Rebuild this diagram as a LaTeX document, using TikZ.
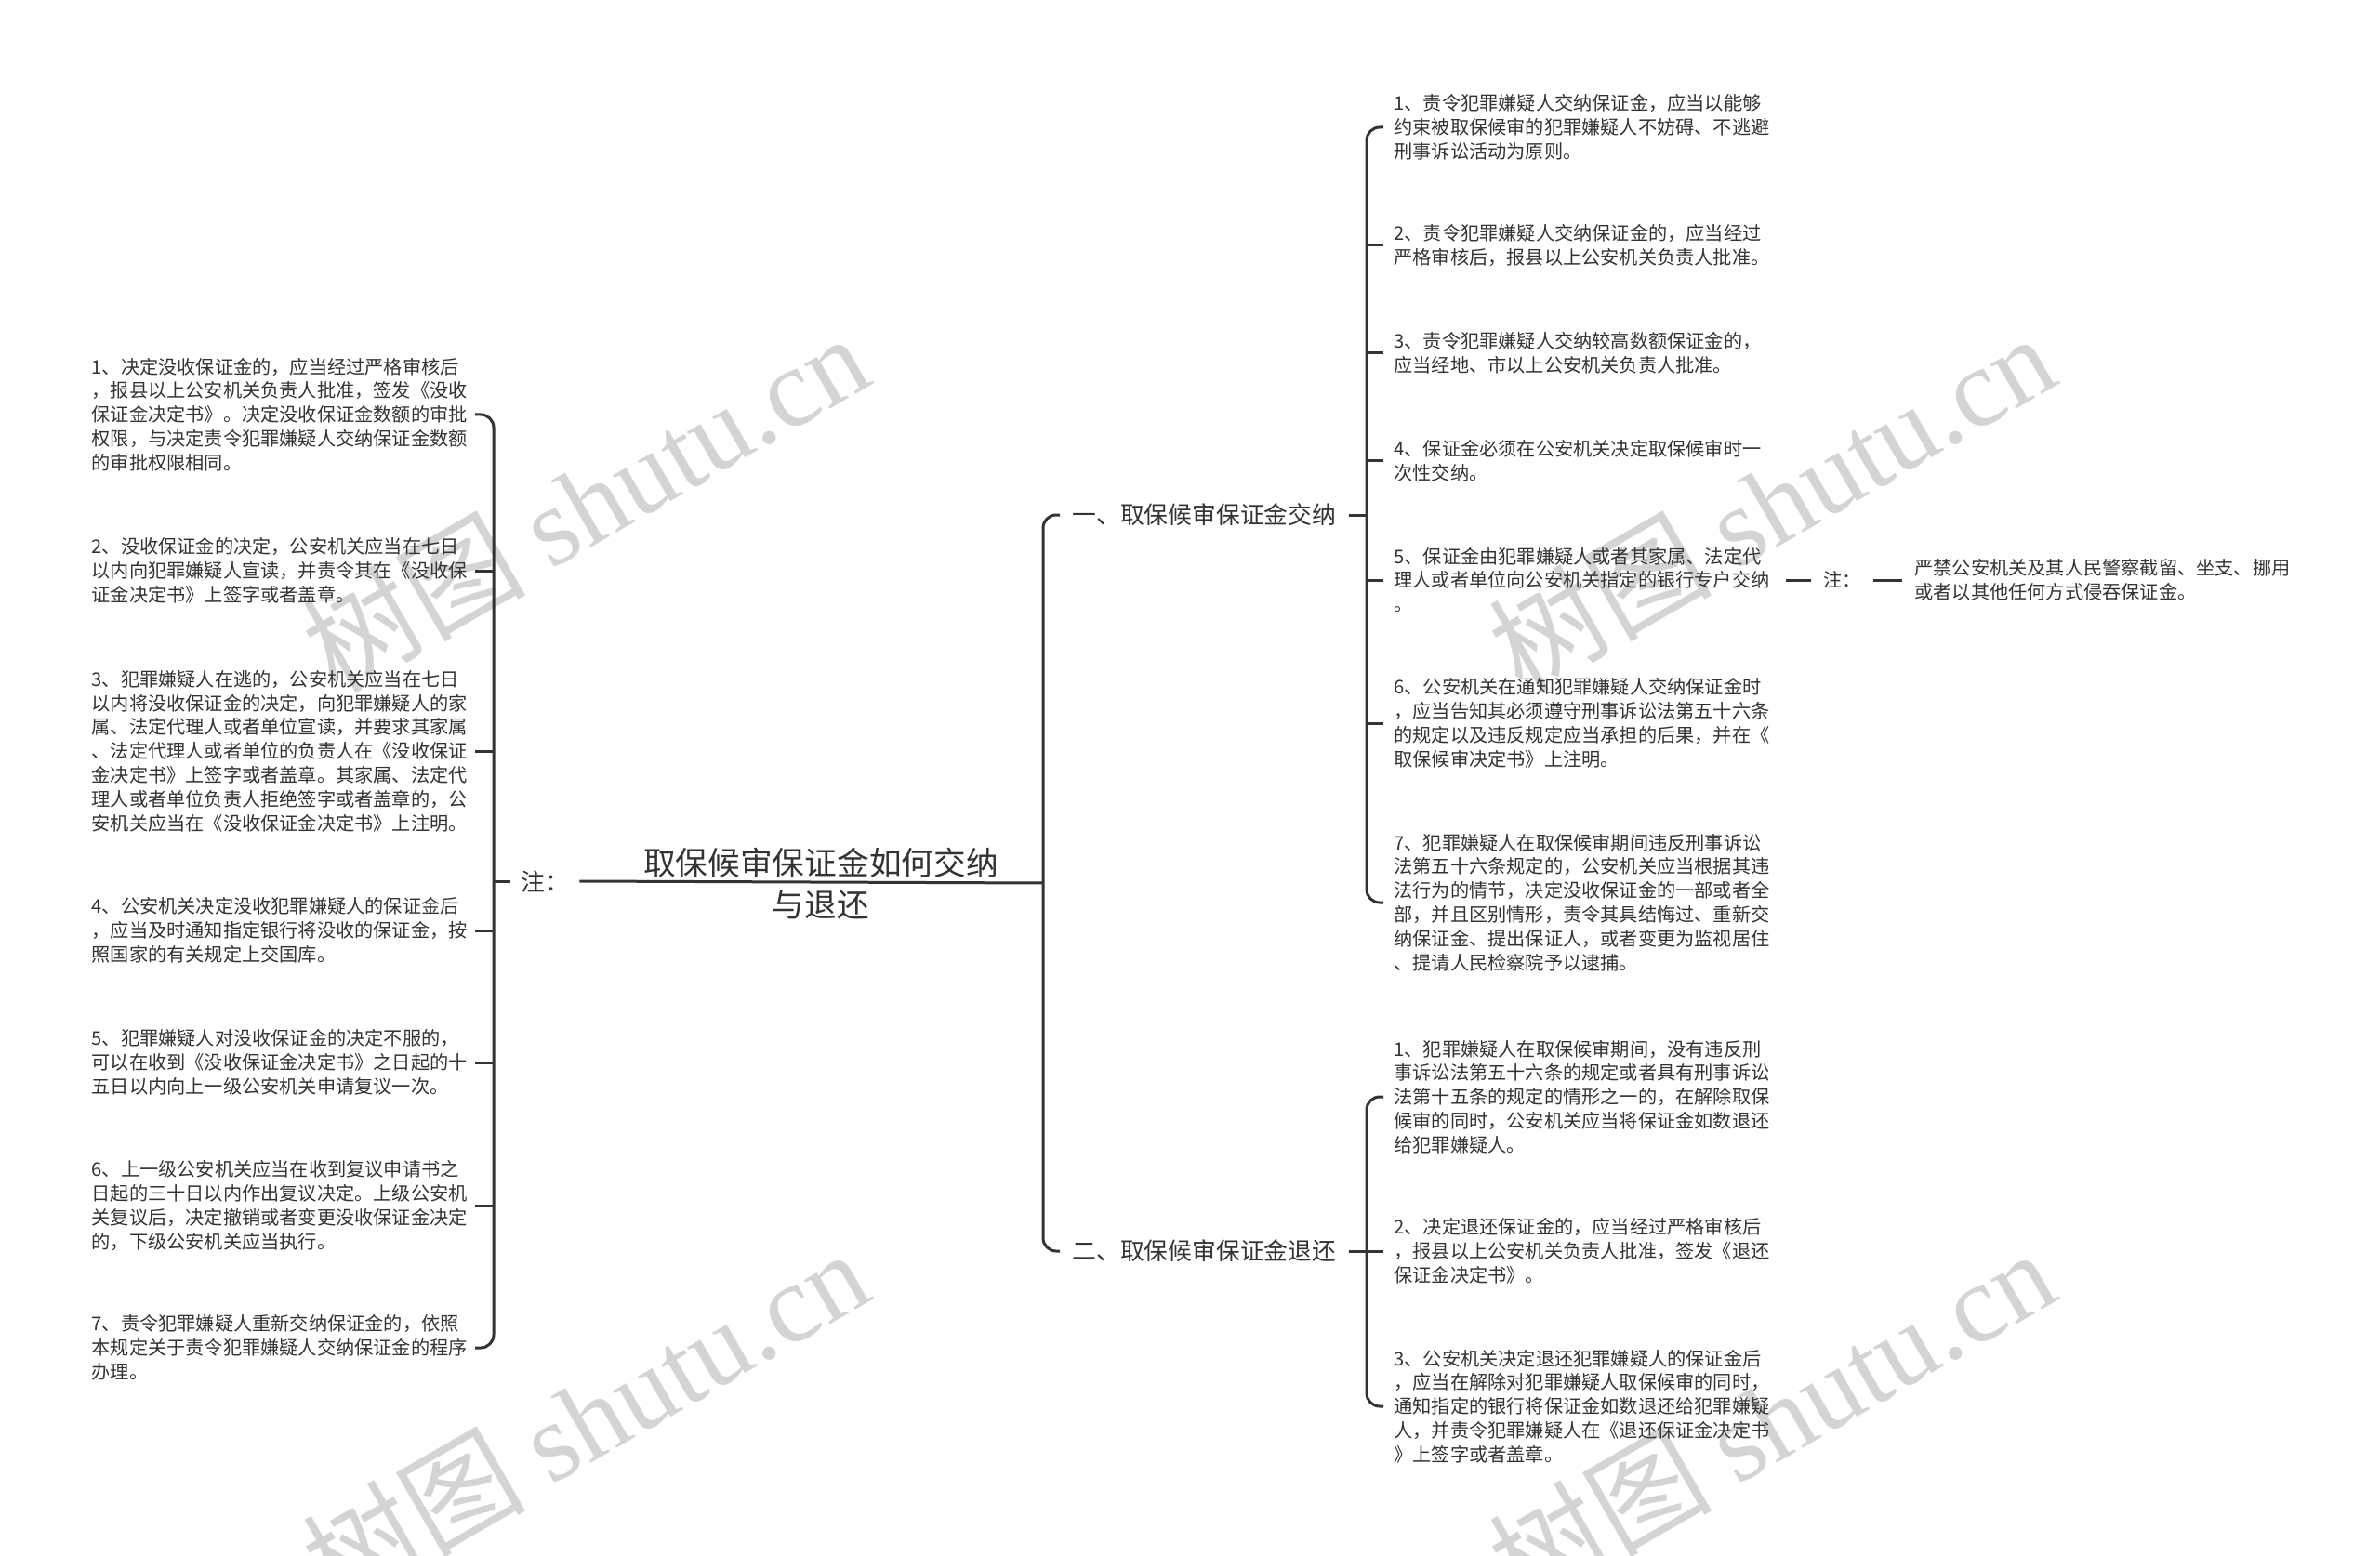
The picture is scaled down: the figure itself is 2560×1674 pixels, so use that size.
\documentclass[tikz,border=0pt]{standalone}
\usepackage{fontspec}
\setmainfont{Noto Sans CJK SC}
\newfontfamily\wmserif{Liberation Serif}
\definecolor{lc}{HTML}{333333}
\definecolor{tc}{HTML}{333333}
\definecolor{wm}{HTML}{D4D4D4}
\begin{document}
\begin{tikzpicture}[x=0.5pt,y=-0.5pt,
  conn/.style={draw=lc,line width=1.5pt},
  brk/.style={conn,rounded corners=7pt},
  leaf/.style={font=\fontsize{10.1pt}{12.9pt}\selectfont,text=tc,align=left,text width=206pt,inner xsep=0pt,inner ysep=0pt,anchor=east},
  rleaf/.style={font=\fontsize{10.1pt}{12.9pt}\selectfont,text=tc,align=left,text width=205pt,inner xsep=5.5pt,inner ysep=0pt,anchor=west},
  small/.style={font=\fontsize{10.1pt}{12.9pt}\selectfont,text=tc,inner xsep=6.5pt,inner ysep=0pt,anchor=west},
  lvl1/.style={font=\fontsize{12.9pt}{15pt}\selectfont,text=tc,inner xsep=5.5pt,inner ysep=2pt,anchor=west},
  rootn/.style={font=\fontsize{17.35pt}{22.5pt}\selectfont,text=tc,align=center,inner sep=0pt},
  wmk/.style={text=wm,rotate=30,font=\fontsize{60pt}{60pt}\selectfont,inner sep=0pt}
]
\useasboundingbox (0,0) rectangle (2560,1674);
% watermarks
\node[wmk] (w1) at (629,540) {树图 {\wmserif shutu.cn}};
\node[wmk] (w2) at (1905,540) {树图 {\wmserif shutu.cn}};
\node[wmk] (w3) at (629,1525) {树图 {\wmserif shutu.cn}};
\node[wmk] (w4) at (1905,1525) {树图 {\wmserif shutu.cn}};

% root
\node[rootn] (root) at (883,951) {取保候审保证金如何交纳\\与退还};
\coordinate (rj) at (1122,950);
\coordinate (lj) at (531,948);
\coordinate (j1) at (1470,554);
\coordinate (j2) at (1470,1346);

% level 1
\node[lvl1] (zhu) at (549,948) {注：};
\node[lvl1,inner xsep=6.5pt] (b1) at (1140,554) {一、取保候审保证金交纳};
\node[lvl1,inner xsep=6.5pt] (b2) at (1140,1346) {二、取保候审保证金退还};

% left leaves
\node[leaf] (l1) at (511,446) {1、决定没收保证金的，应当经过严格审核后\\，报县以上公安机关负责人批准，签发《没收\\保证金决定书》。决定没收保证金数额的审批\\权限，与决定责令犯罪嫌疑人交纳保证金数额\\的审批权限相同。};
\node[leaf] (l2) at (511,614) {2、没收保证金的决定，公安机关应当在七日\\以内向犯罪嫌疑人宣读，并责令其在《没收保\\证金决定书》上签字或者盖章。};
\node[leaf] (l3) at (511,808) {3、犯罪嫌疑人在逃的，公安机关应当在七日\\以内将没收保证金的决定，向犯罪嫌疑人的家\\属、法定代理人或者单位宣读，并要求其家属\\、法定代理人或者单位的负责人在《没收保证\\金决定书》上签字或者盖章。其家属、法定代\\理人或者单位负责人拒绝签字或者盖章的，公\\安机关应当在《没收保证金决定书》上注明。};
\node[leaf] (l4) at (511,1001) {4、公安机关决定没收犯罪嫌疑人的保证金后\\，应当及时通知指定银行将没收的保证金，按\\照国家的有关规定上交国库。};
\node[leaf] (l5) at (511,1143) {5、犯罪嫌疑人对没收保证金的决定不服的，\\可以在收到《没收保证金决定书》之日起的十\\五日以内向上一级公安机关申请复议一次。};
\node[leaf] (l6) at (511,1297) {6、上一级公安机关应当在收到复议申请书之\\日起的三十日以内作出复议决定。上级公安机\\关复议后，决定撤销或者变更没收保证金决定\\的，下级公安机关应当执行。};
\node[leaf] (l7) at (511,1450) {7、责令犯罪嫌疑人重新交纳保证金的，依照\\本规定关于责令犯罪嫌疑人交纳保证金的程序\\办理。};

% right leaves, branch 1
\node[rleaf] (r1) at (1488,137) {1、责令犯罪嫌疑人交纳保证金，应当以能够\\约束被取保候审的犯罪嫌疑人不妨碍、不逃避\\刑事诉讼活动为原则。};
\node[rleaf] (r2) at (1488,264) {2、责令犯罪嫌疑人交纳保证金的，应当经过\\严格审核后，报县以上公安机关负责人批准。};
\node[rleaf] (r3) at (1488,380) {3、责令犯罪嫌疑人交纳较高数额保证金的，\\应当经地、市以上公安机关负责人批准。};
\node[rleaf] (r4) at (1488,496) {4、保证金必须在公安机关决定取保候审时一\\次性交纳。};
\node[rleaf] (r5) at (1488,624) {5、保证金由犯罪嫌疑人或者其家属、法定代\\理人或者单位向公安机关指定的银行专户交纳\\。};
\node[rleaf] (r6) at (1488,778) {6、公安机关在通知犯罪嫌疑人交纳保证金时\\，应当告知其必须遵守刑事诉讼法第五十六条\\的规定以及违反规定应当承担的后果，并在《\\取保候审决定书》上注明。};
\node[rleaf] (r7) at (1488,971) {7、犯罪嫌疑人在取保候审期间违反刑事诉讼\\法第五十六条规定的，公安机关应当根据其违\\法行为的情节，决定没收保证金的一部或者全\\部，并且区别情形，责令其具结悔过、重新交\\纳保证金、提出保证人，或者变更为监视居住\\、提请人民检察院予以逮捕。};

% note on r5
\node[small] (zhu2) at (1948,624) {注：};
\node[rleaf,inner xsep=6.5pt] (nt) at (2046,624) {严禁公安机关及其人民警察截留、坐支、挪用\\或者以其他任何方式侵吞保证金。};

% right leaves, branch 2
\node[rleaf] (s1) at (1488,1180) {1、犯罪嫌疑人在取保候审期间，没有违反刑\\事诉讼法第五十六条的规定或者具有刑事诉讼\\法第十五条的规定的情形之一的，在解除取保\\候审的同时，公安机关应当将保证金如数退还\\给犯罪嫌疑人。};
\node[rleaf] (s2) at (1488,1346) {2、决定退还保证金的，应当经过严格审核后\\，报县以上公安机关负责人批准，签发《退还\\保证金决定书》。};
\node[rleaf] (s3) at (1488,1513) {3、公安机关决定退还犯罪嫌疑人的保证金后\\，应当在解除对犯罪嫌疑人取保候审的同时，\\通知指定的银行将保证金如数退还给犯罪嫌疑\\人，并责令犯罪嫌疑人在《退还保证金决定书\\》上签字或者盖章。};

% connectors: root
\draw[conn] (zhu.east) -- (rj);
\draw[brk] (b1.west) -| (rj) |- (b2.west);
% left bracket
\draw[conn] (lj) -- (zhu.west);
\draw[brk] (l1.east) -| (lj) |- (l7.east);
\foreach \n in {l2,l3,l4,l5,l6} \draw[conn] (\n.east) -- (\n.east -| lj);
% branch 1
\draw[conn] (b1.east) -- (j1);
\draw[brk] (r1.west) -| (j1) |- (r7.west);
\foreach \n in {r2,r3,r4,r5,r6} \draw[conn] (\n.west) -- (\n.west -| j1);
\draw[conn] (r5.east) -- (zhu2.west);
\draw[conn] (zhu2.east) -- (nt.west);
% branch 2
\draw[conn] (b2.east) -- (j2);
\draw[brk] (s1.west) -| (j2) |- (s3.west);
\draw[conn] (s2.west) -- (j2);
\end{tikzpicture}
\end{document}
